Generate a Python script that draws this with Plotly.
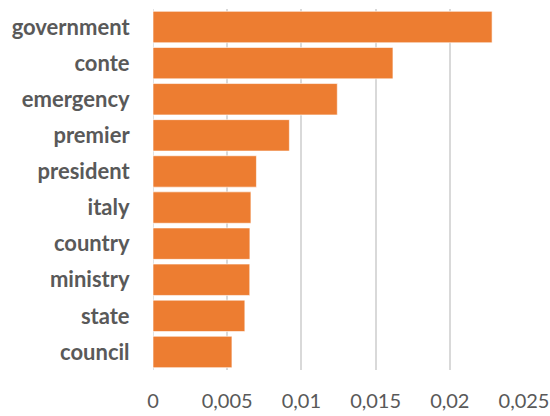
import plotly.graph_objects as go

words = ["government", "conte", "emergency", "premier", "president",
         "italy", "country", "ministry", "state", "council"]
scores = [0.02285, 0.01617, 0.01242, 0.00919, 0.00697,
          0.0066, 0.00653, 0.00652, 0.00619, 0.00532]
x_ticks = [0, 0.005, 0.01, 0.015, 0.02, 0.025]
x_tick_labels = ["0", "0,005", "0,01", "0,015", "0,02", "0,025"]

fig = go.Figure(go.Bar(
    x=scores, y=words, orientation="h",
    marker=dict(color="#ED7D31", line=dict(color="rgba(255,255,255,0.6)", width=1)),
))

fig.update_layout(
    width=550, height=416,
    margin=dict(l=153, r=26, t=9, b=46),
    paper_bgcolor="white", plot_bgcolor="white",
    bargap=0.13,
    showlegend=False,
)
fig.update_xaxes(
    range=[0, 0.025], tickvals=x_ticks, ticktext=x_tick_labels,
    showgrid=True, gridcolor="#D9D9D9", gridwidth=1.5,
    zeroline=False, showline=False, automargin=False,
    tickfont=dict(family="Lato", size=20, color="#595959"),
    ticks="outside", ticklen=13, tickcolor="rgba(0,0,0,0)",
)
fig.update_yaxes(
    autorange="reversed", showgrid=False, zeroline=False, showline=False,
    automargin=False,
    tickfont=dict(family="Lato", size=22, color="#595959", weight="bold"),
    ticks="outside", ticklen=18, tickcolor="rgba(0,0,0,0)",
)
fig.add_shape(type="line", xref="x", yref="paper", x0=0, x1=0, y0=0, y1=1,
              line=dict(color="#D9D9D9", width=1.5), layer="below")

fig.write_html("out.html")
